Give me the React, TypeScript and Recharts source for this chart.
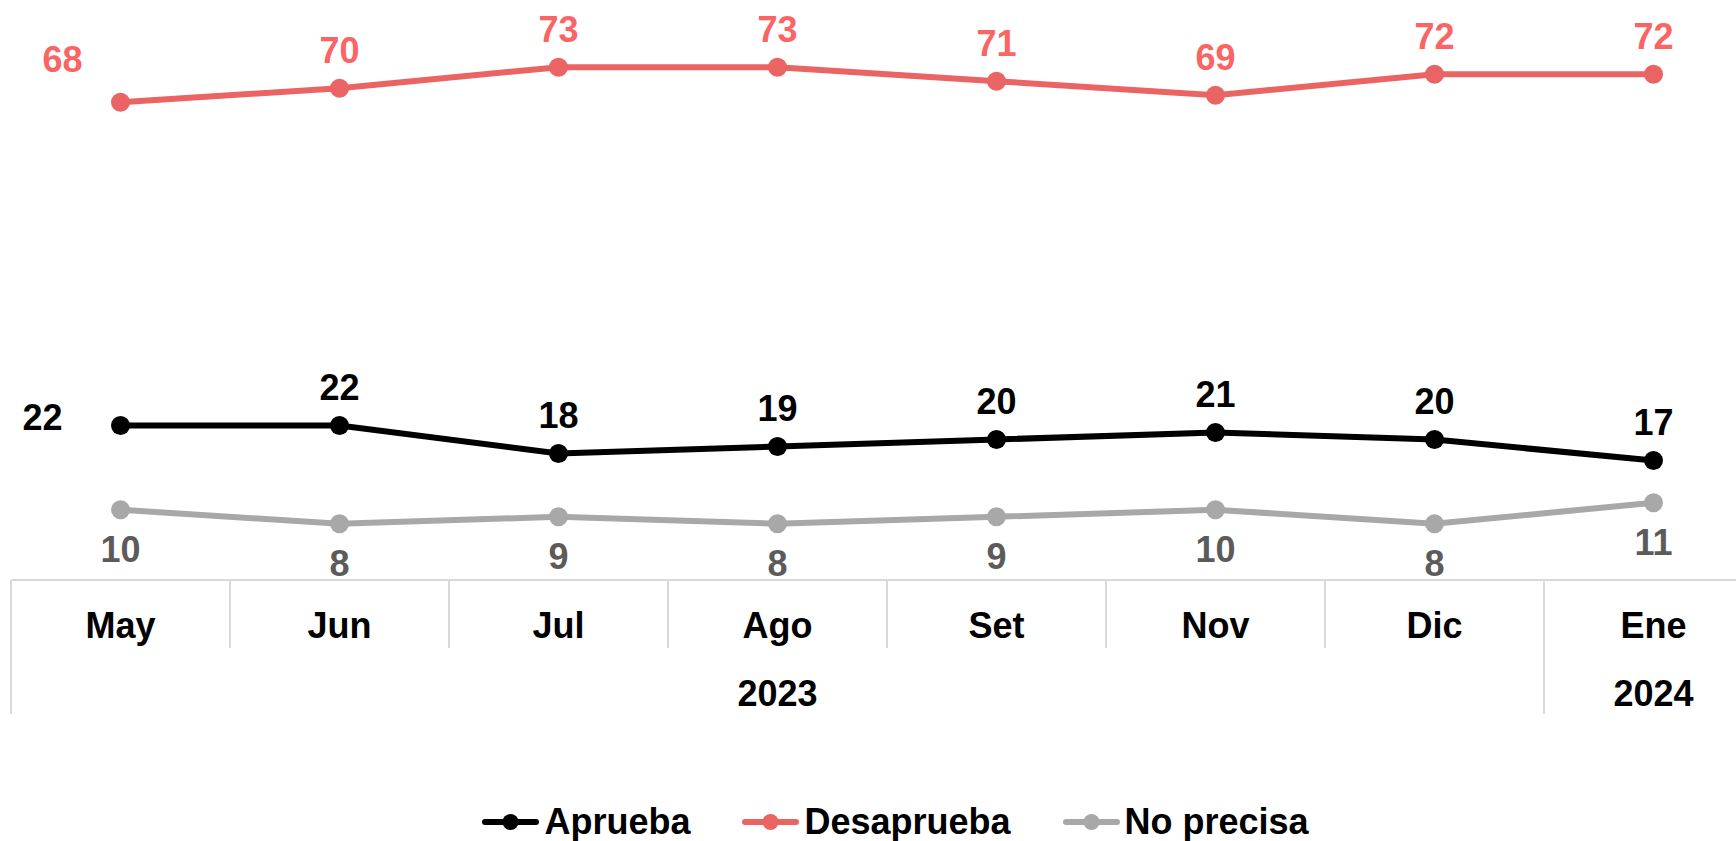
import { LineChart, Line, XAxis, YAxis, Legend, LabelList } from "recharts";

const months = ["May", "Jun", "Jul", "Ago", "Set", "Nov", "Dic", "Ene"];
const aprueba = [22, 22, 18, 19, 20, 21, 20, 17];
const desaprueba = [68, 70, 73, 73, 71, 69, 72, 72];
const noPrecisa = [10, 8, 9, 8, 9, 10, 8, 11];
const years = [
  { label: "2023", first: 0, last: 6 },
  { label: "2024", first: 7, last: 7 },
];

const FONT = "'Liberation Sans', Arial, sans-serif";
const GRID = "#D9D9D9";
const PLOT_W = 1752;
const BAND = PLOT_W / months.length;

const series = [
  { key: "Aprueba", color: "#000000", label: "#000000", pos: "up" },
  { key: "Desaprueba", color: "#EA6464", label: "#FA6464", pos: "up" },
  { key: "No precisa", color: "#A8A8A8", label: "#5B5B5B", pos: "down" },
];

const data = months.map((m, i) => ({
  month: m,
  Aprueba: aprueba[i],
  Desaprueba: desaprueba[i],
  "No precisa": noPrecisa[i],
}));

function MonthTick(props: any) {
  const { x, y, payload, index } = props;
  const group = years.find((g) => g.first === index);
  const left = x - BAND / 2;
  return (
    <g>
      <line
        x1={left}
        x2={left}
        y1={y}
        y2={group ? y + 134 : y + 68}
        stroke={GRID}
        strokeWidth={2}
      />
      <text
        x={x}
        y={y + 45}
        textAnchor="middle"
        dominantBaseline="central"
        fontFamily={FONT}
        fontWeight="bold"
        fontSize={36}
        fill="#000"
      >
        {payload.value}
      </text>
      {group && (
        <text
          x={x + ((group.last - group.first) / 2) * BAND}
          y={y + 113}
          textAnchor="middle"
          dominantBaseline="central"
          fontFamily={FONT}
          fontWeight="bold"
          fontSize={36}
          fill="#000"
        >
          {group.label}
        </text>
      )}
    </g>
  );
}

function makeLabel(color: string, pos: string, firstDx: number, firstDy: number) {
  return (props: any) => {
    const { x, y, value, index } = props;
    let dx = 0;
    let dy = pos === "up" ? -38 : 40;
    if (index === 0 && firstDx !== 0) {
      dx = firstDx;
      dy = firstDy;
    }
    return (
      <text
        x={x + dx}
        y={y + dy}
        textAnchor="middle"
        dominantBaseline="central"
        fontFamily={FONT}
        fontWeight="bold"
        fontSize={36}
        fill={color}
      >
        {value}
      </text>
    );
  };
}

function LegendContent() {
  return (
    <div
      style={{
        display: "flex",
        justifyContent: "center",
        alignItems: "center",
        height: 44,
        fontFamily: FONT,
        fontWeight: "bold",
        fontSize: 36,
        gap: 52,
      }}
    >
      {series.map((s) => (
        <div key={s.key} style={{ display: "flex", alignItems: "center" }}>
          <svg width={57} height={20} style={{ marginRight: 5 }}>
            <line x1={3} x2={54} y1={10} y2={10} stroke={s.color} strokeWidth={6} strokeLinecap="round" />
            <circle cx={28.5} cy={10} r={8} fill={s.color} />
          </svg>
          <span style={{ color: "#000" }}>{s.key}</span>
        </div>
      ))}
    </div>
  );
}

export default function App() {
  const labelCfg: Record<string, [number, number]> = {
    Aprueba: [-78, -8],
    Desaprueba: [-58, -43],
    "No precisa": [0, 0],
  };
  return (
    <div
      style={{
        position: "absolute",
        left: 0,
        top: 0,
        width: 1736,
        height: 841,
        overflow: "hidden",
        background: "#fff",
      }}
    >
      <LineChart
        width={1793}
        height={841}
        data={data}
        margin={{ top: 18, right: 30, left: 11, bottom: 37 }}
      >
        <XAxis
          dataKey="month"
          scale="band"
          height={180}
          tickLine={false}
          tickSize={0}
          tickMargin={0}
          axisLine={{ stroke: GRID, strokeWidth: 2 }}
          tick={(p: any) => <MonthTick {...p} />}
          interval={0}
        />
        <YAxis hide domain={[0, 80]} />
        <Legend
          verticalAlign="bottom"
          content={() => <LegendContent />}
          wrapperStyle={{ top: 800, left: 0, width: 1791, height: 44 }}
        />
        {series.map((s) => (
          <Line
            key={s.key}
            dataKey={s.key}
            stroke={s.color}
            strokeWidth={6}
            dot={{ r: 9.5, fill: s.color, stroke: s.color, strokeWidth: 0 }}
            activeDot={false}
            isAnimationActive={false}
          >
            <LabelList
              dataKey={s.key}
              content={makeLabel(s.label, s.pos, labelCfg[s.key][0], labelCfg[s.key][1])}
            />
          </Line>
        ))}
      </LineChart>
    </div>
  );
}
